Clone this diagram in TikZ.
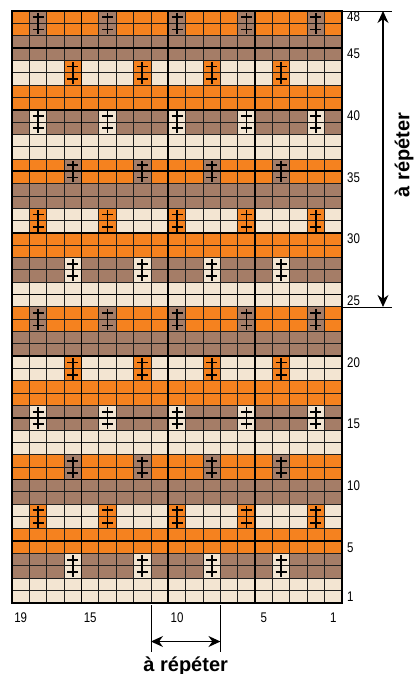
\documentclass[tikz,border=0pt]{standalone}
\usepackage{fontspec}
\setmainfont{Liberation Sans}
\newfontfamily\narrowfont[FakeStretch=0.82]{Liberation Sans}
\usepackage{tikz}
\usetikzlibrary{arrows.meta, calc}
\definecolor{band0}{HTML}{F5821F}
\definecolor{band1}{HTML}{A57D67}
\definecolor{band2}{HTML}{F3E5D2}
\definecolor{gridline}{HTML}{1E1E1E}

\def\cw{17.37}
\def\ch{12.33}

\begin{document}
\begin{tikzpicture}[
  x=1pt, y=-1pt,
  thin grid/.style={draw=gridline, line width=0.9pt},
  thick grid/.style={draw=black, line width=1.8pt},
  stitch/.style={draw=black, line width=1.8pt},
  rownum/.style={font=\narrowfont\fontsize{14}{14}\selectfont, anchor=west, inner sep=0pt},
  colnum/.style={font=\narrowfont\fontsize{14}{14}\selectfont, inner sep=0pt},
  repeatlabel/.style={font=\bfseries\fontsize{20}{20}\selectfont, inner sep=0pt},
  guide/.style={draw=black, line width=0.8pt},
  arr/.style={{Stealth[length=12pt, width=11pt]}-{Stealth[length=12pt, width=11pt]}, line width=1.1pt},
]
\useasboundingbox (0,0) rectangle (414,674);

\coordinate (NW) at (12,11);
\coordinate (NE) at ({12+19*\cw},11);
\coordinate (SW) at (12,{11+48*\ch});
\coordinate (SE) at ({12+19*\cw},{11+48*\ch});

% colour bands, two rows each
\foreach \k in {0,...,23} {
  \pgfmathtruncatemacro\bg{mod(\k,3)}
  \fill[band\bg] (12,{11+2*\k*\ch}) rectangle ({12+19*\cw},{11+2*(\k+1)*\ch});
}
\foreach \k in {0,2,...,22} {
  \pgfmathtruncatemacro\fg{mod(\k+1,3)}
  \pgfmathtruncatemacro\first{mod(\k,4)==0 ? 1 : 3}
  \pgfmathtruncatemacro\second{\first+4}
  \foreach \i in {\first,\second,...,17}
    \fill[band\fg] ({12+\i*\cw},{11+2*\k*\ch}) rectangle ({12+(\i+1)*\cw},{11+2*(\k+1)*\ch});
}

% grid
\foreach \i in {1,...,18}
  \draw[thin grid] ({12+\i*\cw},11) -- ({12+\i*\cw},{11+48*\ch});
\foreach \t in {1,...,47}
  \draw[thin grid] (12,{11+\t*\ch}) -- ({12+19*\cw},{11+\t*\ch});
\foreach \i in {4,9,14}
  \draw[thick grid] ({12+\i*\cw},11) -- ({12+\i*\cw},{11+48*\ch});
\foreach \t in {3,8,...,43}
  \draw[thick grid] (12,{11+\t*\ch}) -- ({12+19*\cw},{11+\t*\ch});
\draw[thick grid, line width=2.2pt] (NW) rectangle (SE);

% stitches
\foreach \k in {0,2,...,22} {
  \pgfmathtruncatemacro\first{mod(\k,4)==0 ? 1 : 3}
  \pgfmathtruncatemacro\second{\first+4}
  \foreach \i in {\first,\second,...,17} {
    \pgfmathsetmacro\cx{12+(\i+0.5)*\cw}
    \pgfmathsetmacro\cy{11+(2*\k+0.5)*\ch}
    \draw[stitch] (\cx,{\cy-4.5}) -- (\cx,{\cy+\ch+5});
    \draw[stitch] ({\cx-5.5},\cy) -- ({\cx+5.5},\cy);
    \draw[stitch] ({\cx-5.5},{\cy+\ch}) -- ({\cx+5.5},{\cy+\ch});
  }
}

\foreach \r in {48,45,40,35,30,25,20,15,10,5,1}
  \node[rownum] (row\r) at (347,{11+(48-\r+0.5)*\ch}) {\r};
\foreach \c in {19,15,10,5,1}
  \node[colnum] (col\c) at ({12+(19-\c+0.5)*\cw},618) {\c};

\coordinate (top end) at (392,11);
\coordinate (r25) at ({12+19*\cw},{11+24*\ch});
\coordinate (r25 end) at (392,{11+24*\ch});
\coordinate (arr top) at (383,11);
\coordinate (arr bot) at (383,{11+24*\ch});
\draw[guide] (NE) -- (top end);
\draw[guide] (r25) -- (r25 end);
\draw[arr] (arr top) -- (arr bot);
\node[repeatlabel, rotate=90] (right label) at (404,155) {à répéter};

\coordinate (c12) at ({12+8*\cw},605);
\coordinate (c12 end) at ({12+8*\cw},652);
\coordinate (c8) at ({12+12*\cw},605);
\coordinate (c8 end) at ({12+12*\cw},652);
\draw[guide] (c12) -- (c12 end);
\draw[guide] (c8) -- (c8 end);
\coordinate (arr left) at ({12+8*\cw},641.5);
\coordinate (arr right) at ({12+12*\cw},641.5);
\draw[arr] (arr left) -- (arr right);
\node[repeatlabel, anchor=base] (bottom label) at ({12+10*\cw},671) {à répéter};

\end{tikzpicture}
\end{document}
